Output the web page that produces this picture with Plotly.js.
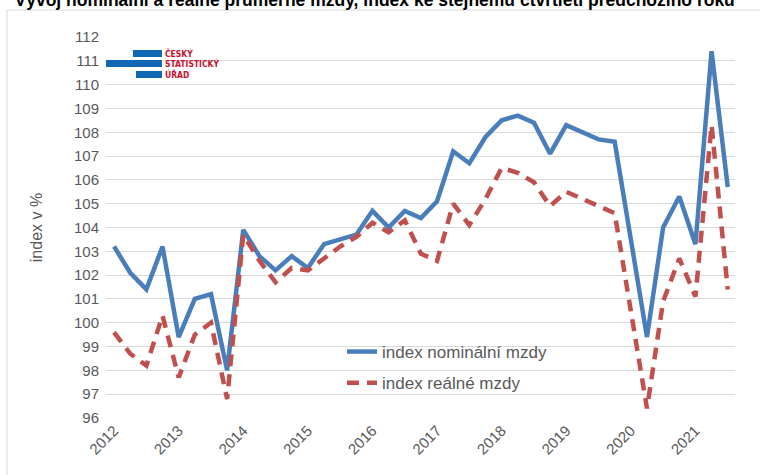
<!DOCTYPE html>
<html>
<head>
<meta charset="utf-8">
<script src="https://cdn.plot.ly/plotly-3.0.1.min.js"></script>
<style>
html,body{margin:0;padding:0;background:#fff;}
#chart{width:760px;height:475px;}
</style>
</head>
<body>
<div id="chart"></div>
<script>
// ---- data ----
const years = ['2012','2013','2014','2015','2016','2017','2018','2019','2020','2021'];
const quarterLabels = ['Q1','Q2','Q3','Q4'];
const nominal = [103.2,102.1,101.4,103.2, 99.4,101.0,101.2,98.0, 103.9,102.8,102.2,102.8,
                 102.3,103.3,103.5,103.7, 104.7,104.0,104.7,104.4, 105.1,107.2,106.7,107.8,
                 108.5,108.7,108.4,107.1, 108.3,108.0,107.7,107.6, 103.5,99.4,104.0,105.3,
                 103.3,111.4,105.7];
const real = [99.6,98.7,98.2,100.3, 97.7,99.5,100.0,96.8, 103.7,102.6,101.7,102.3,
              102.2,102.7,103.2,103.6, 104.2,103.8,104.3,102.9, 102.6,105.0,104.1,105.2,
              106.5,106.3,105.9,104.9, 105.5,105.2,104.9,104.6, 100.5,96.4,100.9,102.7,
              101.1,108.3,101.4];
const seriesNames = ['index nominální mzdy','index reálné mzdy'];
const yTicks = [96,97,98,99,100,101,102,103,104,105,106,107,108,109,110,111,112];

// period categories
const periods = [];
years.forEach(y => quarterLabels.forEach(q => periods.push(y + ' ' + q)));
const x = periods.slice(0, nominal.length);
const yearTickVals = years.map(y => y + ' Q1');

// ---- layout helpers (pixel -> paper) ----
const M = {l:106, r:25, t:37, b:57};
const W = 760, H = 475;
const PW = W - M.l - M.r, PH = H - M.t - M.b;
const px = v => (v - M.l) / PW;
const py = v => (H - M.b - v) / PH;

const grey = '#595959';
const font = 'Liberation Sans, Arial, sans-serif';

const traces = [
  {x: x, y: nominal, name: seriesNames[0], type: 'scatter', mode: 'lines',
   line: {color: '#4a7ebb', width: 4.5}, legendgroup: 'a'},
  {x: x, y: real, name: seriesNames[1], type: 'scatter', mode: 'lines',
   line: {color: '#c0504d', width: 4.5, dash: '12px,8px'}, legendgroup: 'b'}
];

const logoBlue = '#1068b4';
const logoRed = '#c8102e';
const shapes = [
  {type:'line', xref:'paper', yref:'paper', x0:px(7), x1:px(7), y0:py(10), y1:py(480),
   line:{color:'#d9d9d9', width:1}, layer:'above'},
  {type:'line', xref:'paper', yref:'paper', x0:px(7), x1:px(770), y0:py(10), y1:py(10),
   line:{color:'#d9d9d9', width:1}, layer:'above'},
  {type:'rect', xref:'paper', yref:'paper', x0:px(133), x1:px(162), y0:py(57), y1:py(50),
   line:{width:0}, fillcolor:logoBlue},
  {type:'rect', xref:'paper', yref:'paper', x0:px(106), x1:px(162), y0:py(67), y1:py(60),
   line:{width:0}, fillcolor:logoBlue},
  {type:'rect', xref:'paper', yref:'paper', x0:px(136), x1:px(162), y0:py(78), y1:py(71),
   line:{width:0}, fillcolor:logoBlue}
];
const logoText = ['ČESKÝ','STATISTICKÝ','ÚŘAD'];
const logoY = [53.5, 63.5, 74.5];
const annotations = logoText.map((t, i) => ({
  text: '<b>' + t + '</b>', xref:'paper', yref:'paper', x:px(164), y:py(logoY[i]),
  xanchor:'left', yanchor:'middle', showarrow:false, borderpad:0,
  font:{family:'Liberation Sans Narrow, DejaVu Sans Condensed, Arial Narrow, sans-serif', size:8.5, color:logoRed}
}));

const layout = {
  width: W, height: H,
  margin: M,
  paper_bgcolor: '#fff', plot_bgcolor: '#fff',
  title: {text: '<b>Vývoj nominální a reálné průměrné mzdy, index ke stejnému čtvrtletí předchozího roku</b>',
          xref:'container', yref:'container', x:0.493, xanchor:'center', y:1.0, yanchor:'middle',
          font:{family:font, size:17.5, color:'#000'}},
  showlegend: true,
  legend: {x: px(342), y: py(334), xanchor:'left', yanchor:'top',
           bgcolor:'rgba(255,255,255,0)', traceorder:'grouped', tracegroupgap:6,
           font:{family:font, size:17, color:grey}},
  xaxis: {type:'category', range:[-0.5, 38.45], tickmode:'array',
          tickvals: yearTickVals, ticktext: years, tickangle:-45,
          showgrid:false, zeroline:false, showline:false, ticks:'',
          tickfont:{family:font, size:15, color:grey}, fixedrange:true},
  yaxis: {range:[96, 112], tickmode:'array', tickvals:yTicks, ticktext:yTicks.map(String),
          showgrid:true, gridcolor:'#d9d9d9', gridwidth:1, zeroline:false, showline:false,
          ticks:'', ticklabelstandoff:6,
          tickfont:{family:font, size:15, color:grey},
          title:{text:'index v %', font:{family:font, size:16, color:grey}, standoff:27}},
  shapes: shapes,
  annotations: annotations
};

Plotly.newPlot('chart', traces, layout, {displayModeBar:false, staticPlot:true});
</script>
</body>
</html>
